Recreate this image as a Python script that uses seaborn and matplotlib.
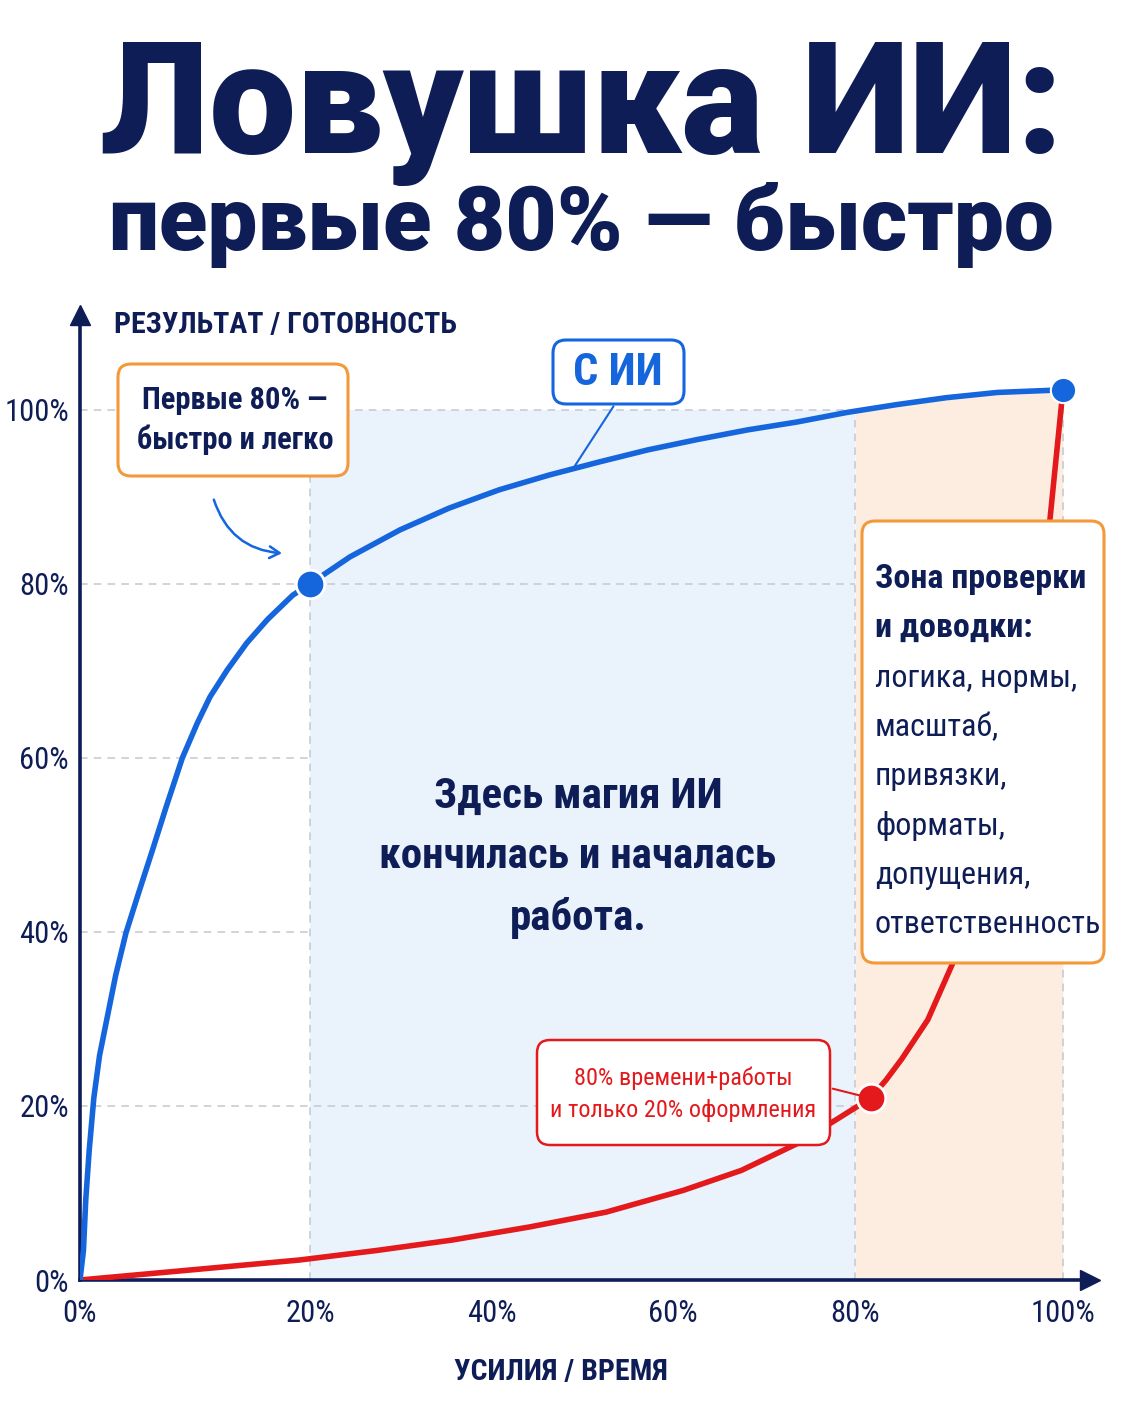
import numpy as np
import pandas as pd
import seaborn as sns
import matplotlib.pyplot as plt
from matplotlib import font_manager
from matplotlib.patches import FancyBboxPatch

# данные кривых, % усилий -> % результата
ai_x = [0, 0.3, 0.5, 0.8, 1.2, 1.7, 2.4, 3.1, 4.0, 5.1, 6.3, 7.5, 8.9, 10.2, 11.3, 12.8, 14.5,
        16.3, 18.5, 20, 24.4, 29.9, 35.3, 40.8, 46.3, 51.8, 57.2, 62.7, 68.2, 73.6, 79.1,
        84.0, 88.8, 93.7, 100]
ai_y = [0, 3.4, 9.2, 14.9, 20.9, 25.8, 30.4, 35.0, 39.9, 44.5, 49.4, 54.4, 60.0, 64.0, 67.0,
        70.1, 73.2, 75.9, 78.7, 80, 83.1, 86.2, 88.7, 90.8, 92.5, 94.0, 95.4, 96.6, 97.7,
        98.6, 99.7, 100.6, 101.4, 102.0, 102.3]
work_x = [0, 10, 19.1, 27.4, 35.7, 44.2, 52.6, 61.1, 67.5, 73.7, 77.9, 81.5, 83, 84.5, 87, 89.4,
          92, 95, 97, 98.75, 100]
work_y = [0, 1.2, 2.3, 3.4, 4.6, 6.1, 7.8, 10.3, 12.6, 15.7, 18.4, 20.9, 23.0, 25.4, 29.9, 36.4,
          45, 58, 71, 87.4, 102.3]

ticks = [0, 20, 40, 60, 80, 100]
tick_labels = [f"{t}%" for t in ticks]

ai_point = (20, 80)
work_point = (81.5, 20.9)
end_point = (100, 102.3)

NAVY = "#0f1d57"
BLUE = "#1565dc"
RED = "#e3191c"
ORANGE = "#f3993a"
GRID = "#c3c8d0"

sns.set_theme(style="white")
names = {f.name for f in font_manager.fontManager.ttflist}
cond = next((n for n in ["Roboto Condensed", "Liberation Sans Narrow", "Roboto"] if n in names), "DejaVu Sans")
k = 1.0 if cond != "Roboto" else 0.86
plt.rcParams["font.family"] = [cond, "DejaVu Sans"]

W, H = 1122, 1402
fig = plt.figure(figsize=(W / 100, H / 100), dpi=100)
fig.patch.set_facecolor("white")
ax = fig.add_axes([80 / W, (H - 1280) / H, 1010 / W, 965 / H])

# ось X на картинке неравномерная: 0-20% шире, дальше почти линейно
xp = [-1000, 0, 20, 80, 100, 1000]
fp = [-11500, 0, 230, 775, 983, 983 + 900 * 10.4]
fwd = lambda v: np.interp(v, xp, fp)
inv = lambda v: np.interp(v, fp, xp)
ax.set_xscale("function", functions=(fwd, inv))
ax.set_xlim(0, 102.6)
ax.set_ylim(0, 110.9)

ai = pd.DataFrame({"x": ai_x, "y": ai_y})
work = pd.DataFrame({"x": work_x, "y": work_y})

# зоны
ax.fill_between([20, 80], 0, 100, color="#eaf2fc", zorder=0, lw=0)
tail = ai[ai.x >= 79]
ax.fill_between(np.r_[80, tail.x[1:]], 0, np.r_[99.8, tail.y[1:]], color="#fdede1", zorder=0, lw=0)

# пунктирная сетка
dash = dict(color=GRID, lw=1.1, ls=(0, (5, 4)), zorder=1)
for yv, xe in [(20, 80), (40, 20), (60, 20), (80, 80), (100, 80)]:
    ax.plot([0, xe], [yv, yv], **dash)
for xv, ye in [(20, 100), (80, 100), (100, 102.3)]:
    ax.plot([xv, xv], [0, ye], **dash)

sns.lineplot(data=work, x="x", y="y", color=RED, lw=4, ax=ax, zorder=3)
sns.lineplot(data=ai, x="x", y="y", color=BLUE, lw=4, ax=ax, zorder=4)

ax.scatter(*ai_point, s=420, color=BLUE, edgecolor="white", lw=2, zorder=6)
ax.scatter(*work_point, s=420, color=RED, edgecolor="white", lw=2, zorder=6)
ax.scatter(*end_point, s=330, color=BLUE, edgecolor="white", lw=1.5, zorder=6, clip_on=False)

ax.set_xticks(ticks)
ax.set_xticklabels(tick_labels)
ax.set_yticks(ticks)
ax.set_yticklabels(tick_labels)
ax.tick_params(length=0, labelsize=22 * k, labelcolor=NAVY)
ax.tick_params(axis="x", pad=14)
ax.tick_params(axis="y", pad=8)
ax.set_xlabel("")
ax.set_ylabel("")
for s in ["top", "right"]:
    ax.spines[s].set_visible(False)
for s in ["left", "bottom"]:
    ax.spines[s].set_color(NAVY)
    ax.spines[s].set_linewidth(2.6)
ax.plot(1, 0, ">", ms=15, color=NAVY, transform=ax.get_yaxis_transform(), clip_on=False)
ax.plot(0, 1, "^", ms=15, color=NAVY, transform=ax.get_xaxis_transform(), clip_on=False)


def fx(px):
    return px / W


def fy(py):
    return 1 - py / H


def rbox(l, t, r, b, ec, lw=2.2):
    p = FancyBboxPatch((l / 100, (H - b) / 100), (r - l) / 100, (b - t) / 100,
                       boxstyle="round,pad=0,rounding_size=0.13",
                       transform=fig.dpi_scale_trans, fc="white", ec=ec, lw=lw, zorder=10)
    fig.patches.append(p)


# заголовок
fig.text(fx(582), fy(153), "Ловушка ИИ:", ha="center", va="baseline",
         fontsize=111.5, fontweight=900, color=NAVY, family=["Roboto", "DejaVu Sans"])
fig.text(fx(581), fy(250), "первые 80% — быстро", ha="center", va="baseline",
         fontsize=64, fontweight=900, color=NAVY, family=["Roboto", "DejaVu Sans"])

# подписи осей
fig.text(fx(114), fy(333), "РЕЗУЛЬТАТ / ГОТОВНОСТЬ", ha="left", va="baseline",
         fontsize=21.5 * k, fontweight="bold", color=NAVY)
fig.text(fx(561), fy(1380), "УСИЛИЯ / ВРЕМЯ", ha="center", va="baseline",
         fontsize=21.5 * k, fontweight="bold", color=NAVY)

# выноска «Первые 80%»
rbox(118, 364, 348, 476, ORANGE)
fig.text(fx(235), fy(420), "Первые 80% —\nбыстро и легко", ha="center", va="center",
         fontsize=22 * k, fontweight="bold", color=NAVY, linespacing=1.38, zorder=11)
ax.annotate("", xy=(17.8, 83.5), xycoords="data", xytext=(213, H - 497), textcoords="figure pixels",
            arrowprops=dict(arrowstyle="->,head_length=0.6,head_width=0.35", color=BLUE, lw=1.8,
                            connectionstyle="arc3,rad=0.35"), zorder=8)

# выноска «С ИИ»
rbox(553, 340, 684, 404, BLUE)
fig.text(fx(618), fy(373), "С ИИ", ha="center", va="center",
         fontsize=32 * k, fontweight="bold", color=BLUE, zorder=11)
ax.annotate("", xy=(49, 93.3), xycoords="data", xytext=(615, H - 404), textcoords="figure pixels",
            arrowprops=dict(arrowstyle="-", color=BLUE, lw=1.5), zorder=8)

# центральный текст
ax.text(49.5, 48.6, "Здесь магия ИИ\nкончилась и началась\nработа.", ha="center", va="center",
        fontsize=31 * k, fontweight="bold", color=NAVY, linespacing=1.6, zorder=7)

# правая выноска
rbox(862, 521, 1104, 963, ORANGE)
lines = [("Зона проверки", "bold"), ("и доводки:", "bold"), ("логика, нормы,", "normal"),
         ("масштаб,", "normal"), ("привязки,", "normal"), ("форматы,", "normal"),
         ("допущения,", "normal"), ("ответственность", "normal")]
for i, (txt, wt) in enumerate(lines):
    fig.text(fx(875), fy(588 + i * 49.3), txt, ha="left", va="baseline",
             fontsize=(24.5 if wt == "bold" else 23) * k, fontweight=wt, color=NAVY, zorder=11)

# красная выноска
rbox(537, 1040, 830, 1145, RED, lw=1.8)
fig.text(fx(683), fy(1094), "80% времени+работы\nи только 20% оформления", ha="center", va="center",
         fontsize=17.5 * k, color=RED, linespacing=1.48, zorder=11)
ax.annotate("", xy=work_point, xycoords="data", xytext=(830, H - 1088), textcoords="figure pixels",
            arrowprops=dict(arrowstyle="-", color=RED, lw=1.5, shrinkB=8), zorder=8)

fig.savefig("out.png", dpi=100, facecolor="white")
